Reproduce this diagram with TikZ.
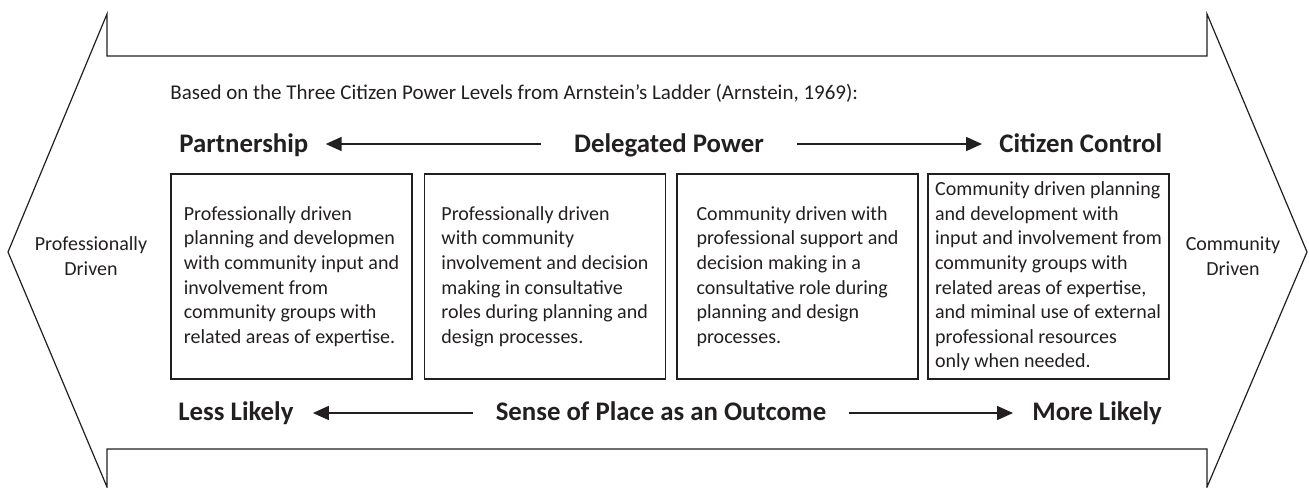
\documentclass[tikz,border=0pt]{standalone}
\usepackage{fontspec}
\setmainfont{Carlito}
\usetikzlibrary{arrows.meta}
\definecolor{ink}{RGB}{35,31,32}

\begin{document}
\begin{tikzpicture}[x=0.5pt,y=-0.5pt,
  every node/.style={inner sep=0pt,text=ink},
  level/.style={font=\fontsize{13.4}{15}\bfseries\selectfont},
  side/.style={align=center,font=\fontsize{10}{12.5}\selectfont},
  stage/.style={draw=ink,line width=0.6pt,minimum width=120.5pt,minimum height=102.5pt,
    align=left,font=\fontsize{10}{12.3}\selectfont},
  flow/.style={draw=ink,line width=0.8pt,-{Triangle[length=8pt,width=7pt]}}
  ]
  \useasboundingbox (0,0) rectangle (1309,487);
  \draw[ink,line width=0.6pt] (107,14) -- (107,56) -- (1207,56) -- (1207,14) -- (1307,252)
    -- (1207,487) -- (1207,449) -- (107,449) -- (107,487) -- (8,252) -- cycle;

  \node[anchor=base west,font=\fontsize{10.5}{12}\selectfont] (source) at (170,99)
    {Based on the Three Citizen Power Levels from Arnstein's Ladder (Arnstein, 1969):};

  \node[side] (prof) at (91,256) {Professionally\\Driven};
  \node[side] (comm) at (1233,256) {Community\\Driven};

  \node[level,anchor=base west] (partner) at (179,152) {Partnership};
  \node[level,anchor=base] (deleg) at (669,152) {Delegated Power};
  \node[level,anchor=base west] (control) at (999,152) {Citizen Control};

  \node[stage] (partbox) at (291.5,276.5) {Professionally driven\\planning and developmen\\with community input and\\involvement from\\community groups with\\related areas of expertise.};
  \node[stage] (delbox) at (545,276.5) {Professionally driven\\with community\\involvement and decision\\making in consultative\\roles during planning and\\design processes.};
  \node[stage] (supbox) at (797.5,276.5) {Community driven with\\professional support and\\decision making in a\\consultative role during\\planning and design\\processes.};
  \node[stage] (ctrlbox) at (1048.5,276.5) {Community driven planning\\and development with\\input and involvement from\\community groups with\\related areas of expertise,\\and miminal use of external\\professional resources\\only when needed.};

  \node[level,anchor=base west] (less) at (178,420) {Less Likely};
  \node[level,anchor=base] (place) at (661,420) {Sense of Place as an Outcome};
  \node[level,anchor=base west] (more) at (1032,420) {More Likely};

  \draw[flow] ([shift={(-16.5pt,4pt)}]deleg.base west) -- ([shift={(8.5pt,4pt)}]partner.base east);
  \draw[flow] ([shift={(16.5pt,4pt)}]deleg.base east) -- ([shift={(-8.5pt,4pt)}]control.base west);
  \draw[flow] ([shift={(-11pt,3.5pt)}]place.base west) -- ([shift={(9.5pt,3.5pt)}]less.base east);
  \draw[flow] ([shift={(11pt,3.5pt)}]place.base east) -- ([shift={(-9.5pt,3.5pt)}]more.base west);
\end{tikzpicture}
\end{document}
